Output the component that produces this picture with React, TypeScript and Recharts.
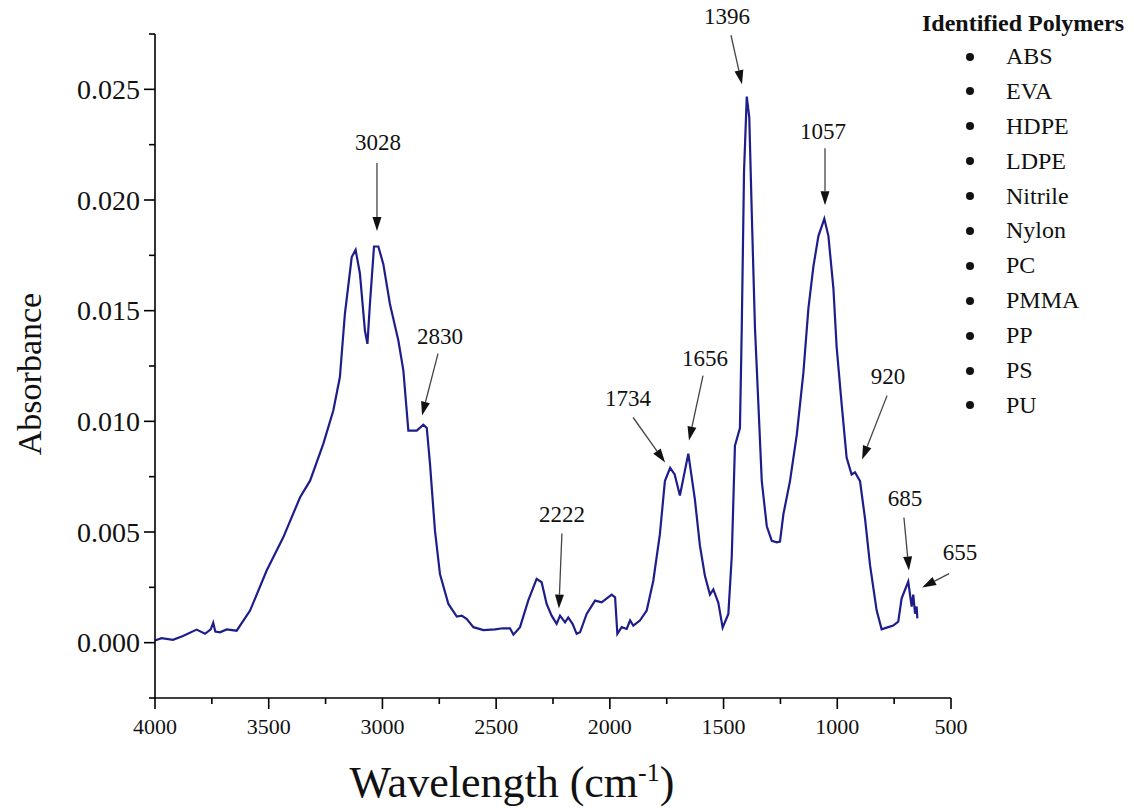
import { LineChart, Line, XAxis, YAxis, ReferenceDot } from 'recharts';

// FTIR spectrum (wavenumber in cm-1, absorbance)
const wavenumbers = [
  4000, 3971, 3921, 3877, 3817, 3780, 3755, 3744, 3735, 3714, 3685, 3641, 3582, 3509, 3436, 3362,
  3318, 3260, 3216, 3187, 3165, 3135, 3118, 3099, 3077, 3066, 3055, 3037, 3018, 2996, 2967, 2930,
  2908, 2886, 2849, 2820, 2805, 2791, 2769, 2747, 2710, 2673, 2651, 2629, 2600, 2556, 2505, 2470,
  2439, 2424, 2395, 2359, 2322, 2300, 2278, 2256, 2234, 2219, 2197, 2183, 2164, 2146, 2131, 2102,
  2065, 2036, 1992, 1977, 1967, 1948, 1926, 1911, 1897, 1868, 1838, 1809, 1780, 1758, 1735, 1715,
  1692, 1655, 1626, 1604, 1582, 1560, 1545, 1523, 1504, 1479, 1464, 1450, 1428, 1420, 1410, 1398,
  1387, 1376, 1362, 1347, 1332, 1310, 1288, 1266, 1252, 1237, 1208, 1178, 1149, 1127, 1105, 1083,
  1057, 1039, 1017, 1003, 981, 959, 937, 922, 900, 878, 856, 827, 805, 783, 754, 732,
  717, 688, 673, 666, 658, 651, 648,
];
const absorbance = [
  0.0001, 0.0002, 0.00013, 0.0003, 0.00059, 0.0004, 0.0006, 0.0009, 0.0005, 0.00047, 0.0006, 0.00054, 0.00145, 0.00326, 0.00476, 0.00657,
  0.00732, 0.00898, 0.01049, 0.012, 0.01486, 0.01742, 0.01775, 0.01668, 0.0141, 0.0135, 0.0153, 0.0179, 0.0179, 0.0171, 0.0153, 0.01365,
  0.0123, 0.00958, 0.00958, 0.00985, 0.0097, 0.0081, 0.00506, 0.0031, 0.00175, 0.00118, 0.00122, 0.00107, 0.0007, 0.00057, 0.0006, 0.00065,
  0.00065, 0.00036, 0.0007, 0.0019, 0.00288, 0.00273, 0.00175, 0.00122, 0.00085, 0.00122, 0.00092, 0.00114, 0.00085, 0.0004, 0.00047, 0.0013,
  0.0019, 0.00182, 0.00217, 0.00205, 0.0004, 0.0007, 0.00062, 0.001, 0.00077, 0.001, 0.00145, 0.0028, 0.0049, 0.0073, 0.0079, 0.0076,
  0.00665, 0.00854, 0.00646, 0.00438, 0.00302, 0.00217, 0.00241, 0.0018, 0.00068, 0.0013, 0.0039, 0.0089, 0.0097, 0.01424, 0.0213, 0.02467,
  0.02373, 0.0194, 0.01424, 0.01078, 0.0073, 0.00526, 0.0046, 0.00453, 0.00457, 0.0058, 0.0073, 0.0094, 0.0122, 0.0151, 0.017, 0.01837,
  0.01915, 0.01837, 0.016, 0.01338, 0.0108, 0.00836, 0.0076, 0.0077, 0.0073, 0.0056, 0.0035, 0.00146, 0.0006, 0.00068, 0.00077, 0.00095,
  0.002, 0.00276, 0.00163, 0.00217, 0.00131, 0.00163, 0.0011,
];

// peak labels and where each arrow tip lands (wavenumber, absorbance)
const peakLabels = ['3028', '2830', '2222', '1734', '1656', '1396', '1057', '920', '685', '655'];
const peakTipWn = [3024, 2826, 2224, 1757, 1652, 1419, 1054, 891, 685, 627];
const peakTipAbs = [0.0186, 0.01026, 0.00154, 0.00814, 0.00913, 0.02523, 0.01976, 0.00827, 0.00326, 0.00249];

const xTicks = [4000, 3750, 3500, 3250, 3000, 2750, 2500, 2250, 2000, 1750, 1500, 1250, 1000, 750, 500];
const yTicks = [-0.0025, 0, 0.0025, 0.005, 0.0075, 0.01, 0.0125, 0.015, 0.0175, 0.02, 0.0225, 0.025, 0.0275];

const polymers = ['ABS', 'EVA', 'HDPE', 'LDPE', 'Nitrile', 'Nylon', 'PC', 'PMMA', 'PP', 'PS', 'PU'];

// arrow tail / label offsets in px, relative to the tip
const calloutLayout = [
  { tx: 0, ty: -68, lx: 1, ly: -89 },
  { tx: 16, ty: -62, lx: 18, ly: -80 },
  { tx: 3, ty: -75, lx: 3, ly: -95 },
  { tx: -32, ty: -45, lx: -37, ly: -65 },
  { tx: 14, ty: -65, lx: 16, ly: -83 },
  { tx: -11, ty: -49, lx: -15, ly: -68 },
  { tx: 0, ty: -57, lx: -2, ly: -74 },
  { tx: 25, ty: -64, lx: 26, ly: -84 },
  { tx: -5, ty: -53, lx: -4, ly: -73 },
  { tx: 27, ty: -14, lx: 38, ly: -36 },
];

const data = wavenumbers.map((wn, i) => ({ wn, abs: absorbance[i] }));

const FONT = "'Liberation Serif', 'Times New Roman', serif";

const XTick = ({ x, y, payload }: any) => {
  const major = payload.value % 500 === 0;
  return (
    <g>
      <line x1={x} x2={x} y1={y} y2={y + (major ? 11 : 6)} stroke="#000" strokeWidth={1.6} />
      {major && (
        <text x={x} y={y + 36} textAnchor="middle" fontSize={22} fontFamily={FONT} fill="#111">
          {payload.value}
        </text>
      )}
    </g>
  );
};

const YTick = ({ x, y, payload }: any) => {
  const v = payload.value;
  const major = Math.round(v * 10000) % 50 === 0 && v >= 0 && v <= 0.025;
  return (
    <g>
      <line x1={x} x2={x - (major ? 11 : 6)} y1={y} y2={y} stroke="#000" strokeWidth={1.6} />
      {major && (
        <text x={x - 15} y={y} dy="0.35em" textAnchor="end" fontSize={28} fontFamily={FONT} fill="#111">
          {v.toFixed(3)}
        </text>
      )}
    </g>
  );
};

const Callout = ({ cx, cy, label, layout }: any) => {
  const { tx, ty, lx, ly } = layout;
  const sx = cx + tx;
  const sy = cy + ty;
  const len = Math.hypot(cx - sx, cy - sy);
  const ux = (cx - sx) / len;
  const uy = (cy - sy) / len;
  const head = 14;
  const half = 4.5;
  const bx = cx - ux * head;
  const by = cy - uy * head;
  return (
    <g>
      <line x1={sx} y1={sy} x2={bx} y2={by} stroke="#444" strokeWidth={1.3} />
      <polygon
        points={`${cx},${cy} ${bx - uy * half},${by + ux * half} ${bx + uy * half},${by - ux * half}`}
        fill="#111"
      />
      <text x={cx + lx} y={cy + ly} dy="0.35em" textAnchor="middle" fontSize={23} fontFamily={FONT} fill="#111">
        {label}
      </text>
    </g>
  );
};

const App = () => {
  return (
    <div style={{ position: 'relative', width: 1134, height: 808, marginTop: -8, fontFamily: FONT }}>
      <LineChart width={1134} height={808} data={data} margin={{ top: 34, right: 191, bottom: 0, left: 0 }}>
        <XAxis
          type="number"
          dataKey="wn"
          domain={[500, 4000]}
          reversed
          ticks={xTicks}
          interval={0}
          tick={<XTick />}
          tickLine={false}
          tickSize={0}
          tickMargin={0}
          height={110}
          axisLine={{ stroke: '#000', strokeWidth: 1.6 }}
        />
        <YAxis
          type="number"
          domain={[-0.0025, 0.0275]}
          ticks={yTicks}
          interval={0}
          tick={<YTick />}
          tickLine={false}
          tickSize={0}
          tickMargin={0}
          width={147}
          allowDataOverflow
          axisLine={{ stroke: '#000', strokeWidth: 1.6 }}
        />
        <Line
          type="linear"
          dataKey="abs"
          stroke="#1d1d8c"
          strokeWidth={2.2}
          dot={false}
          isAnimationActive={false}
        />
        {peakLabels.map((label, i) => (
          <ReferenceDot
            key={label}
            x={peakTipWn[i]}
            y={peakTipAbs[i]}
            r={0}
            ifOverflow="visible"
            shape={(p: any) => <Callout cx={p.cx} cy={p.cy} label={label} layout={calloutLayout[i]} />}
          />
        ))}
      </LineChart>

      <div
        style={{
          position: 'absolute',
          left: 10,
          top: 374,
          transform: 'translate(-50%, -50%) rotate(-90deg)',
          transformOrigin: 'center',
          marginLeft: 12,
          fontSize: 34,
          whiteSpace: 'nowrap',
          color: '#111',
        }}
      >
        Absorbance
      </div>
      <div
        style={{
          position: 'absolute',
          left: 504,
          top: 782,
          transform: 'translate(-50%, -50%)',
          fontSize: 44,
          whiteSpace: 'nowrap',
          color: '#111',
        }}
      >
        Wavelength (cm<sup style={{ fontSize: 26 }}>-1</sup>)
      </div>

      <div style={{ position: 'absolute', left: 914, top: 8, width: 220, color: '#111' }}>
        <div style={{ fontWeight: 'bold', fontSize: 24, lineHeight: '31px', whiteSpace: 'nowrap' }}>
          Identified Polymers
        </div>
        {polymers.map((p) => (
          <div key={p} style={{ position: 'relative', height: 34.9, lineHeight: '34.9px', fontSize: 24 }}>
            <span
              style={{
                position: 'absolute',
                left: 44,
                top: 13.5,
                width: 8,
                height: 8,
                borderRadius: 4,
                background: '#111',
              }}
            />
            <span style={{ position: 'absolute', left: 84 }}>{p}</span>
          </div>
        ))}
      </div>
    </div>
  );
};

export default App;
